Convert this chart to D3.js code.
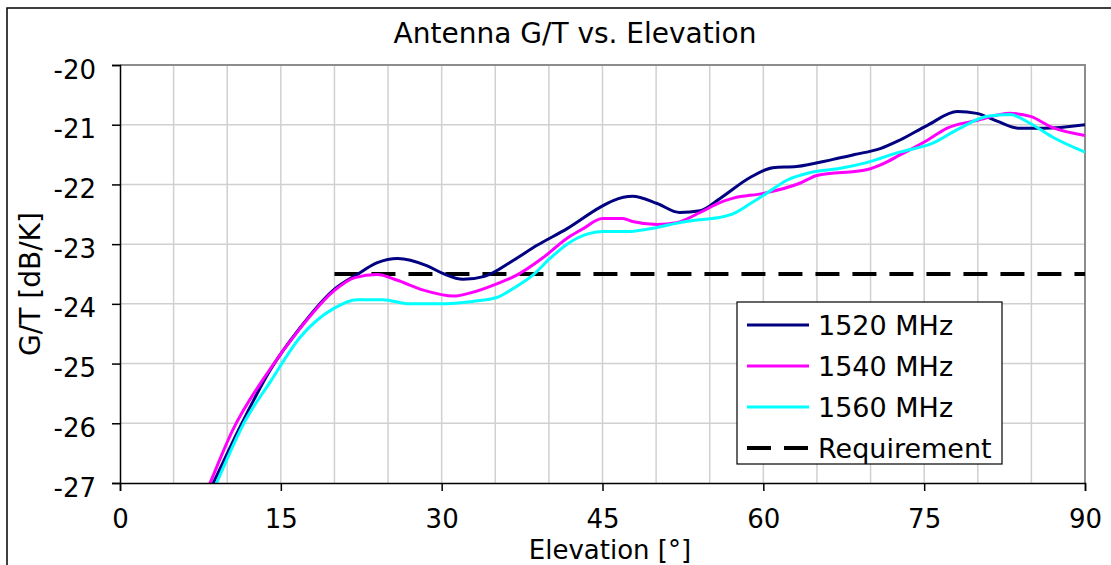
<!DOCTYPE html>
<html>
<head>
<meta charset="utf-8">
<script src="https://cdn.jsdelivr.net/npm/d3@7"></script>
<style>
  body { margin: 0; background: #fff; }
  text { font-family: "DejaVu Sans", Verdana, sans-serif; fill: #000; }
</style>
</head>
<body>
<div id="chart"></div>
<script>
// elevation [deg] / G/T [dB/K]
const elev1520 = [7.0, 8.7, 10.9, 14.0, 16.8, 19.9, 22.1, 24.0, 25.9, 28.6, 30.1, 32.0, 34.0, 36.7, 38.9, 41.7, 44.8, 46.0, 47.8, 50.1, 52.2, 54.1, 56.0, 58.8, 60.9, 63.1, 66.5, 68.5, 70.9, 72.7, 75.3, 78.1, 79.9, 81.8, 83.9, 86.1, 90.0];
const gt1520   = [-27.6, -27.0, -26.17, -25.11, -24.4, -23.77, -23.51, -23.31, -23.24, -23.36, -23.49, -23.59, -23.54, -23.27, -23.02, -22.74, -22.38, -22.27, -22.2, -22.32, -22.47, -22.44, -22.23, -21.88, -21.72, -21.7, -21.58, -21.5, -21.4, -21.26, -21.01, -20.78, -20.81, -20.94, -21.06, -21.06, -21.0];

const elev1540 = [7.0, 8.4, 10.5, 13.7, 16.8, 19.9, 21.9, 24.0, 25.8, 28.3, 31.1, 32.6, 35.2, 37.0, 39.5, 41.7, 43.2, 45.0, 46.9, 47.8, 50.1, 51.9, 54.1, 56.0, 57.2, 60.0, 63.4, 65.0, 69.7, 71.2, 72.7, 75.3, 77.1, 79.9, 83.0, 84.9, 87.0, 90.0];
const gt1540   = [-27.6, -27.0, -26.12, -25.17, -24.41, -23.79, -23.56, -23.51, -23.6, -23.77, -23.87, -23.82, -23.66, -23.52, -23.22, -22.9, -22.74, -22.57, -22.57, -22.62, -22.67, -22.64, -22.47, -22.3, -22.23, -22.15, -21.98, -21.85, -21.75, -21.65, -21.51, -21.26, -21.06, -20.93, -20.81, -20.86, -21.05, -21.18];

const elev1560 = [7.5, 9.0, 11.7, 14.0, 16.8, 19.9, 22.1, 24.5, 27.0, 29.8, 32.9, 35.2, 36.7, 38.5, 40.1, 41.7, 43.8, 45.0, 47.3, 50.1, 52.2, 54.1, 56.0, 57.2, 58.8, 60.3, 62.2, 64.4, 67.2, 69.7, 72.7, 75.8, 78.3, 80.9, 83.0, 84.9, 87.0, 90.0];
const gt1560   = [-27.6, -27.0, -25.95, -25.31, -24.56, -24.08, -23.93, -23.93, -24.0, -24.0, -23.96, -23.89, -23.74, -23.52, -23.24, -23.0, -22.82, -22.79, -22.79, -22.72, -22.64, -22.59, -22.55, -22.49, -22.32, -22.15, -21.93, -21.8, -21.73, -21.63, -21.46, -21.31, -21.06, -20.86, -20.83, -20.98, -21.21, -21.46];

const reqElev = [20, 90];
const reqGT = [-23.5, -23.5];

const seriesNames = ['1520 MHz', '1540 MHz', '1560 MHz', 'Requirement'];
const seriesColors = ['#000080', '#ff00ff', '#00ffff', '#000000'];

const xTicks = [0, 15, 30, 45, 60, 75, 90];
const yTicks = [-20, -21, -22, -23, -24, -25, -26, -27];
const xGrid = d3.range(0, 91, 5);

const W = 1111, H = 565;
const margin = { top: 65, right: 26, bottom: 82, left: 120 };
const width = W - margin.left - margin.right;
const height = H - margin.top - margin.bottom;
const font = '"DejaVu Sans", Verdana, sans-serif';

const svg = d3.select('#chart').append('svg')
  .attr('width', W)
  .attr('height', H);

svg.append('rect').attr('width', W).attr('height', H).attr('fill', '#fff');

// outer chart frame (runs off the picture on the right and bottom)
svg.append('rect')
  .attr('x', 7).attr('y', 8)
  .attr('width', W + 20).attr('height', H + 20)
  .attr('fill', 'none')
  .attr('stroke', '#000')
  .attr('stroke-width', 1.5);

const g = svg.append('g')
  .attr('transform', 'translate(' + margin.left + ',' + margin.top + ')');

const x = d3.scaleLinear().domain([0, 90]).range([0, width]);
const y = d3.scaleLinear().domain([-27, -20]).range([height, 0]);

// grid
g.append('g').selectAll('line').data(xGrid.slice(1)).enter().append('line')
  .attr('x1', d => x(d)).attr('x2', d => x(d))
  .attr('y1', 0).attr('y2', height)
  .attr('stroke', '#d0d0d0').attr('stroke-width', 1.5);
g.append('g').selectAll('line').data(yTicks.slice(1, -1)).enter().append('line')
  .attr('x1', 0).attr('x2', width)
  .attr('y1', d => y(d)).attr('y2', d => y(d))
  .attr('stroke', '#d0d0d0').attr('stroke-width', 1.5);

// top/right border of plot
g.append('path')
  .attr('d', 'M0,0H' + width + 'V' + height)
  .attr('fill', 'none').attr('stroke', '#8c8c8c').attr('stroke-width', 2);

// clip for series
svg.append('defs').append('clipPath').attr('id', 'plotclip')
  .append('rect').attr('x', 0).attr('y', 0).attr('width', width).attr('height', height);

const line = d3.line()
  .x(d => x(d[0]))
  .y(d => y(d[1]))
  .curve(d3.curveMonotoneX);

const series = [
  d3.zip(elev1520, gt1520),
  d3.zip(elev1540, gt1540),
  d3.zip(elev1560, gt1560)
];

const plot = g.append('g').attr('clip-path', 'url(#plotclip)');

plot.append('path')
  .datum(d3.zip(reqElev, reqGT))
  .attr('d', d3.line().x(d => x(d[0])).y(d => y(d[1])))
  .attr('fill', 'none')
  .attr('stroke', '#000')
  .attr('stroke-width', 4)
  .attr('stroke-dasharray', '24,13');

series.forEach((s, i) => {
  plot.append('path')
    .datum(s)
    .attr('d', line)
    .attr('fill', 'none')
    .attr('stroke', seriesColors[i])
    .attr('stroke-width', 3)
    .attr('stroke-linejoin', 'round');
});

// Y axis (plain hyphen minus, like the original)
const yAxis = g.append('g')
  .call(d3.axisLeft(y).tickValues(yTicks).tickSize(8).tickFormat(d => String(d)));
yAxis.select('.domain').attr('stroke', '#000').attr('stroke-width', 1.5);
yAxis.selectAll('.tick line').attr('stroke', '#000').attr('stroke-width', 1.5);
yAxis.selectAll('.tick text')
  .attr('x', -24).attr('y', 13).attr('dy', 0)
  .style('font-size', '26px')
  .style('font-family', font);

// X axis
const xAxis = g.append('g')
  .attr('transform', 'translate(0,' + height + ')')
  .call(d3.axisBottom(x).tickValues(xTicks).tickSize(8).tickFormat(d => String(d)));
xAxis.select('.domain').attr('stroke', '#000').attr('stroke-width', 1.5);
xAxis.selectAll('.tick line').attr('stroke', '#000').attr('stroke-width', 1.5);
xAxis.selectAll('.tick text')
  .attr('y', 45).attr('dy', 0)
  .style('font-size', '26px')
  .style('font-family', font);

// title and axis labels
svg.append('text')
  .attr('x', 575).attr('y', 43)
  .attr('text-anchor', 'middle')
  .style('font-size', '28px')
  .text('Antenna G/T vs. Elevation');

svg.append('text')
  .attr('x', 610).attr('y', 558.5)
  .attr('text-anchor', 'middle')
  .style('font-size', '26px')
  .text('Elevation [°]');

svg.append('text')
  .attr('transform', 'translate(40,284) rotate(-90)')
  .attr('text-anchor', 'middle')
  .style('font-size', '28px')
  .text('G/T [dB/K]');

// legend
const legend = svg.append('g').attr('transform', 'translate(737,302)');
legend.append('rect')
  .attr('width', 265).attr('height', 162)
  .attr('fill', '#fff').attr('stroke', '#000').attr('stroke-width', 1.2);

seriesNames.forEach((name, i) => {
  const ly = 23 + i * 41;
  legend.append('line')
    .attr('x1', 10).attr('x2', 72)
    .attr('y1', ly).attr('y2', ly)
    .attr('stroke', seriesColors[i])
    .attr('stroke-width', i === 3 ? 4 : 3)
    .attr('stroke-dasharray', i === 3 ? '24,13' : null);
  legend.append('text')
    .attr('x', 81).attr('y', ly + 10)
    .style('font-size', '27px')
    .text(name);
});
</script>
</body>
</html>
